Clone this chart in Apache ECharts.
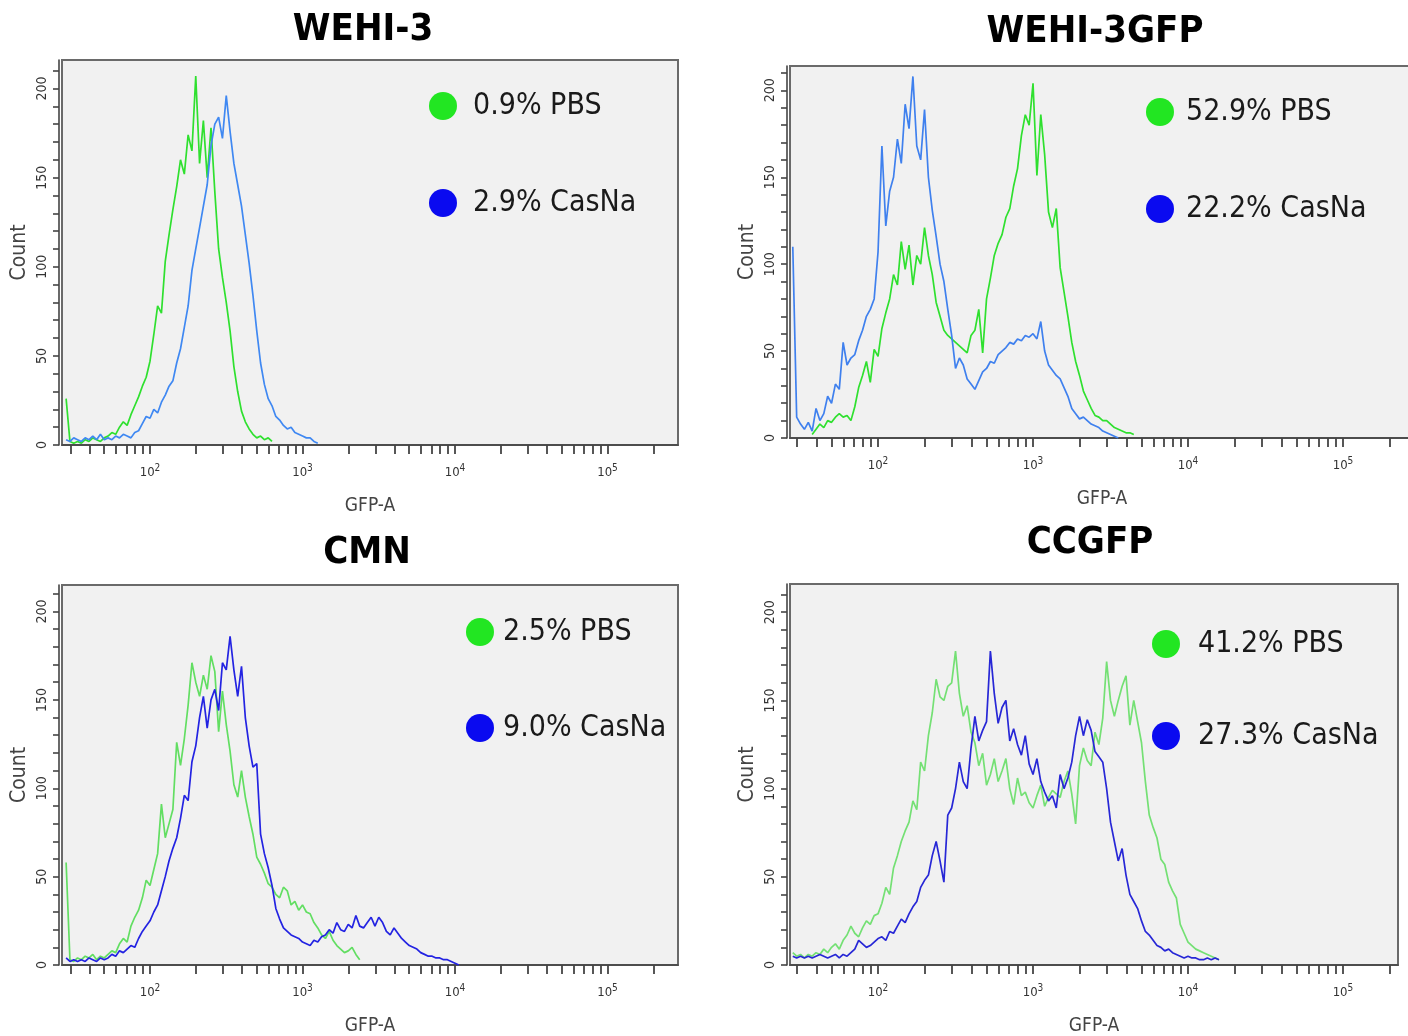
<!DOCTYPE html>
<html>
<head>
<meta charset="utf-8">
<script src="https://cdn.jsdelivr.net/npm/echarts@6/dist/echarts.min.js"></script>
<style>
  html, body { margin: 0; padding: 0; background: #ffffff; }
  #chart { width: 1408px; height: 1036px; }
</style>
</head>
<body>
<div id="chart"></div>
<script>
// GFP-A flow cytometry histograms, PBS vs CasNa treatment.
// Counts are per channel bin; bins are evenly spaced in log10(GFP-A).
const BIN_STEP = 0.025; // decades per bin

const panelTitles = ['WEHI-3', 'WEHI-3GFP', 'CMN', 'CCGFP'];
const pbsLabels = ['0.9% PBS', '52.9% PBS', '2.5% PBS', '41.2% PBS'];
const casnaLabels = ['2.9% CasNa', '22.2% CasNa', '9.0% CasNa', '27.3% CasNa'];

// log10(GFP-A) of the first bin of each histogram
const wehi3PbsStart = 1.45;
const wehi3CasnaStart = 1.45;
const wehi3gfpPbsStart = 1.575;
const wehi3gfpCasnaStart = 1.45;
const cmnPbsStart = 1.45;
const cmnCasnaStart = 1.45;
const ccgfpPbsStart = 1.45;
const ccgfpCasnaStart = 1.45;

const wehi3Pbs = [26,2,1,2,1,3,2,4,3,2,4,5,7,6,10,13,11,17,22,27,33,38,47,62,78,74,103,118,132,145,160,152,174,165,207,158,182,150,178,142,110,94,80,64,44,30,19,13,9,6,4,5,3,4,2];
const wehi3Casna = [3,2,4,3,2,4,3,5,3,6,3,4,3,5,4,6,5,4,7,8,12,16,15,20,18,24,28,33,36,46,54,66,78,98,110,122,134,146,168,180,184,172,196,176,158,146,134,118,102,84,64,46,34,26,22,16,14,11,9,10,7,6,5,4,4,2,1];

const wehi3gfpPbs = [2,5,8,6,10,9,12,14,12,13,10,18,29,36,44,32,51,47,63,72,80,94,88,113,97,111,88,105,100,121,105,94,78,70,62,59,57,55,53,51,49,59,62,74,49,80,92,105,112,117,127,132,145,155,174,186,180,204,151,186,163,130,121,132,98,84,70,55,44,36,27,22,17,13,12,10,10,8,6,5,4,3,3,2];
const wehi3gfpCasna = [110,12,8,5,9,4,17,10,14,24,20,31,28,55,42,46,48,56,62,70,74,80,107,168,122,142,150,172,158,192,178,208,168,160,189,150,131,116,100,90,74,59,40,46,42,34,31,28,33,38,40,44,43,48,50,52,55,54,57,56,59,58,60,57,67,50,42,39,36,34,29,24,17,14,11,12,10,8,7,6,4,3,2,1,0];

const cmnPbs = [58,3,2,4,3,5,4,6,3,5,4,6,8,7,12,15,13,22,27,31,38,48,45,54,63,91,72,80,88,126,113,128,147,171,160,152,164,156,175,166,132,155,136,121,102,95,110,95,84,74,61,57,52,46,44,40,38,44,42,34,36,31,34,30,29,24,21,17,15,19,14,11,9,7,8,10,6,3];
const cmnCasna = [4,2,3,2,3,2,4,3,2,4,3,4,6,5,8,7,9,11,10,15,19,22,25,30,34,42,50,59,66,72,83,96,93,115,124,140,152,134,150,156,144,171,167,186,167,152,169,140,124,112,114,74,63,55,45,32,26,21,19,17,16,15,13,12,11,14,13,16,17,20,18,24,20,19,23,21,28,22,21,24,27,22,27,24,19,17,21,18,15,13,11,10,9,7,6,5,5,4,4,3,3,2,1,0];

const ccgfpPbs = [7,5,6,4,6,5,7,6,9,7,10,12,9,14,17,22,18,16,21,25,23,28,29,35,44,40,55,62,70,76,81,93,88,115,110,130,143,162,152,150,158,160,178,154,141,147,132,126,113,120,102,108,117,104,110,117,100,91,106,96,98,92,89,96,102,90,95,99,97,95,104,110,97,80,113,123,116,113,132,125,140,172,150,141,150,158,164,136,150,138,126,104,85,78,72,60,57,47,42,38,23,18,13,11,9,8,7,6,5,4,3];
const ccgfpCasna = [5,4,5,4,5,4,5,6,5,4,5,6,4,6,5,7,9,14,12,10,11,13,15,16,14,19,18,22,26,24,29,33,36,44,48,51,62,70,59,47,85,89,100,115,104,100,123,141,127,133,138,178,154,137,146,150,127,134,125,119,130,114,108,117,104,98,93,96,89,108,100,106,115,130,141,130,139,133,121,118,115,100,81,70,59,66,51,40,36,32,25,19,17,14,11,10,8,9,7,6,5,4,5,4,4,3,3,4,3,4,3];

// axis tick labels
const decadeExponents = [2, 3, 4, 5];
const countLabels = [0, 50, 100, 150, 200];
const countTicks = [0, 10, 20, 30, 40, 50, 60, 70, 80, 90, 100, 110, 120, 130, 140, 150, 160, 170, 180, 190, 200, 210];

const pbsSeries = [
  [wehi3PbsStart, wehi3Pbs], [wehi3gfpPbsStart, wehi3gfpPbs],
  [cmnPbsStart, cmnPbs], [ccgfpPbsStart, ccgfpPbs]
];
const casnaSeries = [
  [wehi3CasnaStart, wehi3Casna], [wehi3gfpCasnaStart, wehi3gfpCasna],
  [cmnCasnaStart, cmnCasna], [ccgfpCasnaStart, ccgfpCasna]
];

const CONDENSED = '"DejaVu Sans Condensed", "Liberation Sans", sans-serif';

// panel geometry and styling
const layout = [
  { left: 62,  top: 60,  width: 616, height: 385, xMin: 1.423, xMax: 5.462, yMax: 216,
    titleX: 363,  titleY: 11,  legLeft: 429,  legTop: 91,  legGap: 67, legPad: 11,
    pbsColor: '#2fe02f', casColor: '#3f88f2' },
  { left: 790, top: 66,  width: 624, height: 372, xMin: 1.432, xMax: 5.458, yMax: 214,
    titleX: 1095, titleY: 13,  legLeft: 1146, legTop: 97,  legGap: 67, legPad: 7,
    pbsColor: '#2fe02f', casColor: '#3f80ee' },
  { left: 62,  top: 585, width: 616, height: 380, xMin: 1.423, xMax: 5.462, yMax: 215,
    titleX: 367,  titleY: 534, legLeft: 466,  legTop: 617, legGap: 66, legPad: 4,
    pbsColor: '#62de62', casColor: '#2323e2' },
  { left: 790, top: 584, width: 608, height: 381, xMin: 1.432, xMax: 5.355, yMax: 216,
    titleX: 1090, titleY: 524, legLeft: 1152, legTop: 629, legGap: 62, legPad: 13,
    pbsColor: '#74e074', casColor: '#2727d6' }
];

const LEGEND_GREEN = '#22e622';
const LEGEND_BLUE = '#0a0af0';

function minorDecadeTicks(min, max) {
  const ticks = [];
  for (let d = 1; d <= 5; d++) {
    for (let k = 1; k <= 9; k++) {
      const v = d + Math.log10(k);
      if (v >= min && v <= max) ticks.push(v);
    }
  }
  return ticks;
}

function binned(start, counts) {
  return counts.map((c, i) => [start + i * BIN_STEP, c]);
}

const grid = [], xAxis = [], yAxis = [], series = [], legend = [], title = [];

layout.forEach((p, i) => {
  grid.push({
    left: p.left, top: p.top, width: p.width, height: p.height,
    show: true, backgroundColor: '#f1f1f1', borderColor: '#6a6a6a', borderWidth: 2,
    outerBoundsMode: 'none', containLabel: false
  });
  xAxis.push({
    type: 'value', gridIndex: i, min: p.xMin, max: p.xMax, offset: 3,
    name: 'GFP-A', nameLocation: 'middle', nameGap: 49,
    nameTextStyle: { fontFamily: CONDENSED, fontSize: 19, color: '#444' },
    axisLine: { show: true, lineStyle: { color: '#444', width: 1.6 } },
    axisTick: { show: true, length: 9, inside: false, customValues: minorDecadeTicks(p.xMin, p.xMax),
                lineStyle: { color: '#444', width: 1.8 } },
    axisLabel: {
      customValues: decadeExponents, margin: 15, color: '#333',
      formatter: v => '{b|10}{s|' + Math.round(v) + '}',
      rich: {
        b: { fontFamily: CONDENSED, fontSize: 13, color: '#333' },
        s: { fontFamily: CONDENSED, fontSize: 10, color: '#333', padding: [0, 0, 10, 0] }
      }
    },
    splitLine: { show: false }
  });
  yAxis.push({
    type: 'value', gridIndex: i, min: 0, max: p.yMax, offset: 3,
    name: 'Count', nameLocation: 'middle', nameGap: 29, nameRotate: 90,
    nameTextStyle: { fontFamily: CONDENSED, fontSize: 21, color: '#444' },
    axisLine: { show: true, lineStyle: { color: '#444', width: 1.6 } },
    axisTick: { show: true, length: 6, customValues: countTicks, lineStyle: { color: '#444', width: 1.6 } },
    axisLabel: { customValues: countLabels, rotate: 90, margin: 10, color: '#333',
                 fontFamily: CONDENSED, fontSize: 14 },
    splitLine: { show: false }
  });
  const [ps, pc] = pbsSeries[i];
  const [cs, cc] = casnaSeries[i];
  series.push({
    type: 'line', name: pbsLabels[i], xAxisIndex: i, yAxisIndex: i,
    data: binned(ps, pc), showSymbol: false, symbol: 'none', silent: true,
    lineStyle: { color: p.pbsColor, width: 1.7 }, itemStyle: { color: p.pbsColor }
  });
  series.push({
    type: 'line', name: casnaLabels[i], xAxisIndex: i, yAxisIndex: i,
    data: binned(cs, cc), showSymbol: false, symbol: 'none', silent: true,
    lineStyle: { color: p.casColor, width: 1.7 }, itemStyle: { color: p.casColor }
  });
  legend.push({
    orient: 'vertical', left: p.legLeft, top: p.legTop, itemGap: p.legGap,
    icon: 'circle', itemWidth: 28, itemHeight: 28, selectedMode: false, padding: 0,
    textStyle: { fontFamily: CONDENSED, fontSize: 30, color: '#1a1a1a',
                 lineHeight: 28, padding: [0, 0, 0, p.legPad] },
    data: [
      { name: pbsLabels[i], itemStyle: { color: LEGEND_GREEN } },
      { name: casnaLabels[i], itemStyle: { color: LEGEND_BLUE } }
    ]
  });
  title.push({
    text: panelTitles[i], left: p.titleX, top: p.titleY, textAlign: 'center', padding: 0,
    textStyle: { fontFamily: CONDENSED, fontWeight: 'bold', fontSize: 38, color: '#000' }
  });
});

const chart = echarts.init(document.getElementById('chart'), null, { renderer: 'canvas' });
chart.setOption({
  backgroundColor: '#ffffff',
  animation: false,
  title, legend, grid, xAxis, yAxis, series
});
</script>
</body>
</html>
